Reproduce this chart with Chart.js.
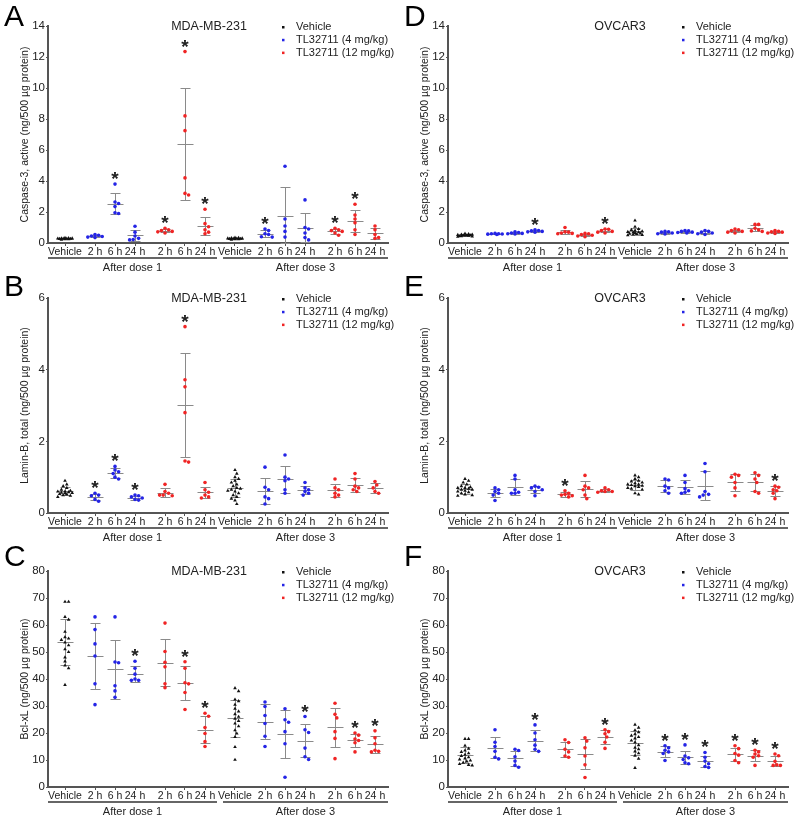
<!DOCTYPE html>
<html>
<head>
<meta charset="utf-8">
<script src="https://cdn.jsdelivr.net/npm/chart.js@4.4.1/dist/chart.umd.min.js"></script>
<style>
  html, body { margin: 0; padding: 0; background: #fff; }
  #wrap { position: relative; width: 800px; height: 821px; overflow: hidden; background: #fff; }
  #wrap canvas { position: absolute; }
</style>
</head>
<body>
<div id="wrap">
  <canvas id="cA" width="400" height="285" style="left:0;top:0"></canvas>
  <canvas id="cB" width="400" height="285" style="left:0;top:270px"></canvas>
  <canvas id="cC" width="400" height="285" style="left:0;top:540px"></canvas>
  <canvas id="cD" width="400" height="285" style="left:400px;top:0"></canvas>
  <canvas id="cE" width="400" height="285" style="left:400px;top:270px"></canvas>
  <canvas id="cF" width="400" height="285" style="left:400px;top:540px"></canvas>
</div>
<script>
// ---------- categories
const xLabels = ["Vehicle", "2 h", "6 h", "24 h", "2 h", "6 h", "24 h",
                 "Vehicle", "2 h", "6 h", "24 h", "2 h", "6 h", "24 h"];
// 0 = Vehicle, 1 = TL32711 4 mg/kg, 2 = TL32711 12 mg/kg
const groupSeries = [0, 1, 1, 1, 2, 2, 2, 0, 1, 1, 1, 2, 2, 2];
const doseLabels = ["After dose 1", "After dose 3"];
const seriesNames = ["Vehicle", "TL32711 (4 mg/kg)", "TL32711 (12 mg/kg)"];

// ---------- values (one list per group, same order as xLabels)
const caspMDA = [
  [0.25, 0.30, 0.28, 0.22, 0.33, 0.27, 0.30, 0.24, 0.29, 0.26, 0.31, 0.28],
  [0.55, 0.50, 0.42, 0.38, 0.35, 0.45],
  [3.80, 2.65, 2.55, 2.35, 1.95, 1.90],
  [1.08, 0.70, 0.45, 0.30, 0.22, 0.20],
  [0.95, 0.85, 0.80, 0.75, 0.72, 0.65],
  [12.35, 8.20, 7.25, 4.20, 3.20, 3.10],
  [2.18, 1.25, 1.05, 0.85, 0.70, 0.60],
  [0.30, 0.25, 0.28, 0.35, 0.22, 0.30, 0.27, 0.33, 0.25, 0.29, 0.31, 0.26],
  [0.90, 0.80, 0.60, 0.55, 0.40, 0.38],
  [4.95, 1.55, 1.10, 0.75, 0.38],
  [2.78, 1.00, 0.90, 0.65, 0.35, 0.20],
  [0.95, 0.85, 0.80, 0.75, 0.65, 0.50],
  [2.50, 1.80, 1.55, 1.30, 0.85, 0.55],
  [1.10, 0.85, 0.55, 0.35, 0.30]
];
const caspOV = [
  [0.60, 0.55, 0.50, 0.45, 0.50, 0.42, 0.48, 0.55, 0.40, 0.52, 0.47, 0.50, 0.44, 0.58],
  [0.62, 0.60, 0.58, 0.55, 0.57, 0.60],
  [0.72, 0.68, 0.65, 0.60, 0.58, 0.62],
  [0.85, 0.80, 0.78, 0.72, 0.75, 0.70],
  [1.00, 0.72, 0.70, 0.65, 0.60, 0.62],
  [0.62, 0.60, 0.55, 0.50, 0.45, 0.40],
  [0.90, 0.88, 0.80, 0.75, 0.70, 0.65],
  [1.45, 1.05, 0.90, 0.85, 0.80, 0.75, 0.70, 0.68, 0.65, 0.60, 0.58, 0.55, 0.52, 0.50, 0.72, 0.62],
  [0.75, 0.72, 0.70, 0.65, 0.60, 0.58],
  [0.80, 0.78, 0.75, 0.70, 0.65, 0.68],
  [0.80, 0.75, 0.70, 0.65, 0.60, 0.55],
  [0.90, 0.85, 0.80, 0.75, 0.70, 0.65],
  [1.20, 1.20, 0.95, 0.85, 0.78, 0.75],
  [0.80, 0.75, 0.72, 0.70, 0.65, 0.62]
];
const laminMDA = [
  [0.90, 0.80, 0.75, 0.70, 0.65, 0.62, 0.60, 0.58, 0.56, 0.55, 0.53, 0.50, 0.48, 0.45, 0.60, 0.57, 0.52],
  [0.55, 0.50, 0.48, 0.38, 0.33],
  [1.30, 1.20, 1.15, 1.10, 1.00, 0.95],
  [0.50, 0.48, 0.45, 0.42, 0.38, 0.36],
  [0.80, 0.60, 0.55, 0.50, 0.48, 0.50],
  [5.20, 3.72, 3.52, 2.80, 1.45, 1.42],
  [0.85, 0.65, 0.58, 0.50, 0.45, 0.42],
  [1.20, 1.10, 1.00, 0.95, 0.90, 0.85, 0.80, 0.75, 0.70, 0.68, 0.65, 0.62, 0.60, 0.55, 0.50, 0.45, 0.40, 0.35, 0.25],
  [1.28, 0.72, 0.65, 0.45, 0.25, 0.40],
  [1.62, 1.00, 0.95, 0.90, 0.65, 0.55],
  [0.85, 0.70, 0.65, 0.60, 0.55, 0.50],
  [0.95, 0.70, 0.65, 0.55, 0.50, 0.45],
  [1.10, 0.95, 0.75, 0.70, 0.65, 0.60],
  [0.88, 0.78, 0.70, 0.60, 0.55]
];
const laminOV = [
  [0.95, 0.90, 0.85, 0.80, 0.75, 0.72, 0.70, 0.68, 0.65, 0.62, 0.60, 0.58, 0.55, 0.52, 0.50, 0.48, 0.65, 0.70],
  [0.70, 0.65, 0.60, 0.55, 0.50, 0.35],
  [1.05, 0.95, 0.65, 0.58, 0.55, 0.55],
  [0.75, 0.72, 0.70, 0.65, 0.60, 0.48],
  [0.62, 0.55, 0.52, 0.50, 0.48, 0.45],
  [1.05, 0.75, 0.70, 0.65, 0.50, 0.40],
  [0.70, 0.65, 0.62, 0.60, 0.58, 0.60],
  [1.05, 1.00, 0.95, 0.90, 0.88, 0.85, 0.83, 0.80, 0.78, 0.76, 0.75, 0.73, 0.70, 0.68, 0.65, 0.55, 0.52, 0.80],
  [0.95, 0.92, 0.75, 0.70, 0.62, 0.55],
  [1.05, 0.85, 0.68, 0.62, 0.58, 0.55],
  [1.38, 1.15, 0.60, 0.52, 0.45, 0.50],
  [1.08, 1.05, 1.00, 0.85, 0.70, 0.48],
  [1.12, 1.05, 0.95, 0.85, 0.60, 0.55],
  [0.75, 0.72, 0.65, 0.62, 0.55, 0.40]
];
const bclMDA = [
  [68.6, 68.6, 63, 62, 57.5, 55.5, 55, 54.5, 53.5, 52.5, 51, 50, 48, 46.5, 45, 44, 37.8],
  [63, 58.3, 53, 48.5, 38.2, 30.5],
  [63, 46.3, 46, 37.5, 35.6, 33.2],
  [46.6, 44, 41.8, 40, 39.5, 39.5],
  [60.7, 50.2, 46.2, 44.5, 38.2, 36.8],
  [46.4, 44, 38.6, 38.2, 35, 28.7],
  [27.3, 26.2, 22, 19.8, 16.8, 15],
  [36.6, 35.5, 32.4, 31.8, 30.5, 29, 28, 27, 26, 25.3, 24.5, 23.5, 22.5, 21, 19.8, 18.5, 14.8, 10.1],
  [31.5, 29.8, 26.5, 23.5, 18.8, 15],
  [29, 24.9, 24, 20.5, 16, 3.6],
  [26.1, 21.2, 20.2, 14.4, 11.2, 10.2],
  [31, 26.9, 25.6, 20.5, 18, 10.5],
  [20, 19.2, 17.8, 17.2, 16.4, 13],
  [20.8, 18.2, 16, 13.6, 13.2, 13]
];
const bclOV = [
  [17.8, 17.8, 15.3, 14.2, 13.5, 13, 12.5, 12, 11.5, 11, 10.6, 10.2, 9.8, 9.5, 9, 8.5, 8.2, 8],
  [21.2, 16.6, 15, 13.2, 11, 10.4],
  [14, 13.5, 11.2, 9.6, 8, 7.3],
  [23, 20, 17.5, 15.5, 14, 13.2],
  [17.5, 16.5, 14, 13, 11.5, 11],
  [18.2, 17, 14.5, 11.5, 8.2, 3.5],
  [21.2, 20.5, 19.7, 18.5, 16.6, 14.3],
  [23.1, 22, 21, 20.3, 19.6, 19, 18.5, 18, 17.2, 16.5, 15.5, 14.6, 14, 13.2, 12.5, 11.6, 10.5, 7.1],
  [15.3, 14.5, 13.6, 13, 12.4, 9.8],
  [15.6, 11.5, 10.8, 10.2, 9, 8.6],
  [12.8, 11, 9.6, 8.6, 7.6, 7.2],
  [15.3, 14.2, 12.4, 11.8, 9.8, 9],
  [13.6, 13, 12.2, 11.6, 11, 8],
  [12.2, 11.6, 9.5, 8.2, 8, 8]
];

// groups marked with * (index into xLabels)
const starsA = [2, 4, 5, 6, 8, 11, 12];
const starsB = [1, 2, 3, 5];
const starsC = [3, 5, 6, 10, 12, 13];
const starsD = [3, 6];
const starsE = [4, 13];
const starsF = [3, 6, 8, 9, 10, 11, 12, 13];

// ---------- look
const FONT = '"Liberation Sans", Arial, Helvetica, sans-serif';
const INK = "#222";
const AXIS = "#555";
const colors = ["#111111", "#2424e6", "#f02424"];
const slot = [0, 1.5, 2.5, 3.5, 5, 6, 7]; // place inside one dose block
const DOSE_SHIFT = 8.5;
const groupPos = xLabels.map((_, i) => Math.floor(i / 7) * DOSE_SHIFT + slot[i % 7]);
const X_MIN = -0.85, X_MAX = 16.15;
const PX_PER_X = 20;

Chart.defaults.font.family = FONT;
Chart.defaults.color = INK;

const panels = [
  { id: "cA", letter: "A", cell: "MDA-MB-231", titleX: 209, data: caspMDA, stars: starsA, yMax: 14, step: 2,
    yTitle: "Caspase-3, active (ng/500 µg protein)", padTop: 26, padBottom: 4 },
  { id: "cB", letter: "B", cell: "MDA-MB-231", titleX: 209, data: laminMDA, stars: starsB, yMax: 6, step: 2,
    yTitle: "Lamin-B, total (ng/500 µg protein)", padTop: 28, padBottom: 4 },
  { id: "cC", letter: "C", cell: "MDA-MB-231", titleX: 209, data: bclMDA, stars: starsC, yMax: 80, step: 10,
    yTitle: "Bcl-xL (ng/500 µg protein)", padTop: 31, padBottom: 0 },
  { id: "cD", letter: "D", cell: "OVCAR3", titleX: 220, data: caspOV, stars: starsD, yMax: 14, step: 2,
    yTitle: "Caspase-3, active (ng/500 µg protein)", padTop: 26, padBottom: 4 },
  { id: "cE", letter: "E", cell: "OVCAR3", titleX: 220, data: laminOV, stars: starsE, yMax: 6, step: 2,
    yTitle: "Lamin-B, total (ng/500 µg protein)", padTop: 28, padBottom: 4 },
  { id: "cF", letter: "F", cell: "OVCAR3", titleX: 220, data: bclOV, stars: starsF, yMax: 80, step: 10,
    yTitle: "Bcl-xL (ng/500 µg protein)", padTop: 31, padBottom: 0 }
];

// compact beeswarm: spread overlapping points sideways, never wider than ±7 px
const SWARM_STEPS = [0, 1.8, -1.8, 3.6, -3.6, 5.4, -5.4, 7.2, -7.2];
function swarm(vals, pxPerY) {
  const gap = 3.6;
  const placed = [];
  const off = new Array(vals.length).fill(0);
  const order = vals.map((v, i) => i).sort((a, b) => vals[b] - vals[a]);
  order.forEach((i) => {
    const y = vals[i] * pxPerY;
    let best = 0, bestD = -1;
    for (const dx of SWARM_STEPS) {
      const d = placed.length ? Math.min(...placed.map((p) => Math.hypot(p.x - dx, p.y - y))) : 99;
      if (d >= gap) { best = dx; bestD = d; break; }
      if (d > bestD + 0.3) { best = dx; bestD = d; }
    }
    placed.push({ x: best, y });
    off[i] = best;
  });
  return off;
}

const mean = (a) => a.reduce((s, v) => s + v, 0) / a.length;
const sd = (a) => {
  const m = mean(a);
  return Math.sqrt(a.reduce((s, v) => s + (v - m) * (v - m), 0) / (a.length - 1));
};

function decoPlugin(p) {
  return {
    id: "deco" + p.letter,
    beforeDatasetsDraw(chart) {
      // mean ± SD bars
      const { ctx, scales: { x, y } } = chart;
      ctx.save();
      ctx.strokeStyle = "#8a8a8a";
      ctx.lineWidth = 1;
      p.data.forEach((vals, g) => {
        const m = mean(vals), s = sd(vals);
        const cx = Math.round(x.getPixelForValue(groupPos[g])) + 0.5;
        const yt = Math.round(y.getPixelForValue(m + s)) + 0.5;
        const yb = Math.round(y.getPixelForValue(Math.max(0, m - s))) + 0.5;
        const ym = Math.round(y.getPixelForValue(m)) + 0.5;
        ctx.beginPath();
        ctx.moveTo(cx, yt); ctx.lineTo(cx, yb);
        ctx.moveTo(cx - 5, yt); ctx.lineTo(cx + 5, yt);
        ctx.moveTo(cx - 5, yb); ctx.lineTo(cx + 5, yb);
        ctx.moveTo(cx - 8, ym); ctx.lineTo(cx + 8, ym);
        ctx.stroke();
      });
      ctx.restore();
    },
    afterDraw(chart) {
      const { ctx, chartArea: ca, scales: { x, y } } = chart;
      ctx.save();
      // panel letter
      ctx.fillStyle = "#000";
      ctx.font = "30px " + FONT;
      ctx.textAlign = "left";
      ctx.textBaseline = "alphabetic";
      ctx.fillText(p.letter, 4, 26);
      // cell line title
      ctx.fillStyle = INK;
      ctx.font = "12.5px " + FONT;
      ctx.textAlign = "center";
      ctx.textBaseline = "middle";
      ctx.fillText(p.cell, p.titleX, ca.top + 1);
      // legend
      ctx.font = "11px " + FONT;
      ctx.textAlign = "left";
      seriesNames.forEach((name, k) => {
        const ly = ca.top + 1 + k * 12.8;
        ctx.fillStyle = colors[k];
        ctx.fillRect(282, ly - 1, 2.5, 2.5);
        ctx.fillStyle = INK;
        ctx.fillText(name, 296, ly);
      });
      // significance stars
      ctx.font = "bold 19px " + FONT;
      ctx.textAlign = "center";
      ctx.textBaseline = "alphabetic";
      p.stars.forEach((g) => {
        const vals = p.data[g];
        const top = Math.max(Math.max(...vals), mean(vals) + sd(vals));
        const cy = y.getPixelForValue(top) - 10;
        ctx.fillText("*", x.getPixelForValue(groupPos[g]), cy + 11);
      });
      // dose underlines and labels
      const split = (groupPos[6] + groupPos[7]) / 2;
      const spans = [
        [ca.left, x.getPixelForValue(split - 0.15)],
        [x.getPixelForValue(split + 0.15), ca.right]
      ];
      ctx.strokeStyle = "#333";
      ctx.lineWidth = 1.3;
      ctx.font = "11px " + FONT;
      ctx.textBaseline = "middle";
      spans.forEach(([a, b], d) => {
        ctx.beginPath();
        ctx.moveTo(a, ca.bottom + 15);
        ctx.lineTo(b, ca.bottom + 15);
        ctx.stroke();
        ctx.fillText(doseLabels[d], (a + b) / 2, ca.bottom + 25);
      });
      ctx.restore();
    }
  };
}

panels.forEach((p) => {
  const pxPerY = 216 / p.yMax;
  const sets = [[], [], []];
  p.data.forEach((vals, g) => {
    const off = swarm(vals, pxPerY);
    vals.forEach((v, i) => {
      sets[groupSeries[g]].push({ x: groupPos[g] + off[i] / PX_PER_X, y: v });
    });
  });

  new Chart(document.getElementById(p.id), {
    type: "scatter",
    data: {
      datasets: sets.map((pts, k) => ({
        label: seriesNames[k],
        data: pts,
        backgroundColor: colors[k],
        borderWidth: 0,
        pointStyle: k === 0 ? "triangle" : "circle",
        pointRadius: k === 0 ? 2.1 : 1.8,
        pointHoverRadius: 2
      }))
    },
    options: {
      responsive: false,
      animation: false,
      events: [],
      layout: { padding: { top: p.padTop, bottom: p.padBottom, left: 0, right: 12 } },
      plugins: { legend: { display: false }, tooltip: { enabled: false } },
      scales: {
        x: {
          type: "linear",
          min: X_MIN,
          max: X_MAX,
          afterBuildTicks: (s) => { s.ticks = groupPos.map((v) => ({ value: v })); },
          afterFit: (s) => { s.height = 38; },
          ticks: {
            autoSkip: false,
            maxRotation: 0,
            padding: 0,
            color: INK,
            font: { size: 10.5 },
            callback: (v, i) => xLabels[i]
          },
          grid: { drawOnChartArea: false, drawTicks: true, tickLength: 3, color: AXIS },
          border: { display: true, color: AXIS, width: 2 }
        },
        y: {
          min: 0,
          max: p.yMax,
          afterFit: (s) => { s.width = 48; },
          ticks: { stepSize: p.step, padding: 1, color: INK, font: { size: 11.5 } },
          grid: { drawOnChartArea: false, drawTicks: true, tickLength: 2, color: AXIS },
          border: { display: true, color: AXIS, width: 2 },
          title: {
            display: true,
            text: p.yTitle,
            color: INK,
            font: { size: 10.5 },
            padding: { top: 19, bottom: 0 }
          }
        }
      }
    },
    plugins: [decoPlugin(p)]
  });
});
</script>
</body>
</html>
